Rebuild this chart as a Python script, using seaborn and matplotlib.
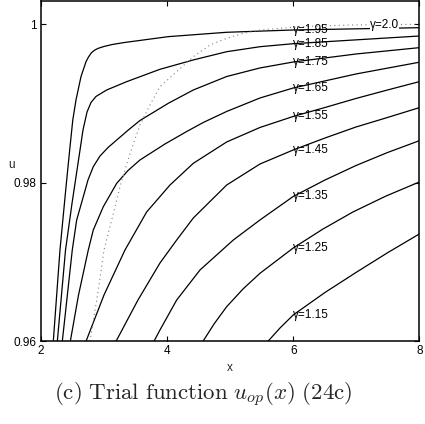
import numpy as np
import pandas as pd
import matplotlib
matplotlib.use("Agg")
import matplotlib.pyplot as plt
import seaborn as sns

# ---- data ----
gammas = ["1.95", "1.85", "1.75", "1.65", "1.55", "1.45", "1.35", "1.25", "1.15"]

x_195 = [2.195, 2.301, 2.397, 2.455, 2.504, 2.555, 2.634, 2.714, 2.753, 2.801, 2.856, 2.909,
         2.999, 3.126, 3.305, 4.019, 4.945, 6.0, 8.0]
u_195 = [0.9600, 0.97152, 0.97951, 0.98414, 0.98792, 0.99045, 0.99339, 0.99528, 0.99587, 0.99642,
         0.99676, 0.99697, 0.99720, 0.99744, 0.99768, 0.99844, 0.99899, 0.99928, 0.99957]

x_185 = [2.259, 2.389, 2.492, 2.611, 2.666, 2.730, 2.793, 2.872, 3.042, 3.359, 3.887, 4.416,
         4.945, 5.473, 6.0, 8.0]
u_185 = [0.9600, 0.97152, 0.97741, 0.98372, 0.98666, 0.98893, 0.99013, 0.99089, 0.99171, 0.99276,
         0.99432, 0.99550, 0.99654, 0.99717, 0.99755, 0.99852]

x_175 = [2.338, 2.496, 2.566, 2.671, 2.745, 2.829, 2.936, 3.063, 3.201, 3.385, 3.570, 4.019,
         4.416, 4.945, 5.473, 6.0, 6.996, 8.0]
u_175 = [0.9600, 0.97152, 0.97531, 0.97825, 0.98035, 0.98203, 0.98338, 0.98445, 0.98540, 0.98666,
         0.98786, 0.99003, 0.99171, 0.99341, 0.99449, 0.99524, 0.99625, 0.99705]

x_165 = [2.465, 2.595, 2.750, 2.829, 2.988, 3.201, 3.380, 3.570, 3.967, 4.311, 4.574, 4.945,
         5.473, 6.0, 6.996, 8.0]
u_165 = [0.9600, 0.96584, 0.97152, 0.97404, 0.97698, 0.97994, 0.98155, 0.98288, 0.98490, 0.98647,
         0.98761, 0.98900, 0.99070, 0.99196, 0.99373, 0.99521]

x_155 = [2.714, 2.999, 3.332, 3.676, 4.046, 4.416, 4.945, 5.473, 6.0, 6.504, 6.996, 7.496, 8.0]
u_155 = [0.9600, 0.96584, 0.97152, 0.97632, 0.97972, 0.98246, 0.98515, 0.98698, 0.98837, 0.98950,
         0.99064, 0.99171, 0.99276]

x_145 = [3.190, 3.538, 3.887, 4.152, 4.416, 4.945, 5.473, 6.0, 6.504, 6.996, 7.496, 8.0]
u_145 = [0.9600, 0.96521, 0.96988, 0.97278, 0.97556, 0.97972, 0.98237, 0.98414, 0.98565, 0.98704,
         0.98824, 0.98948]

x_135 = [3.792, 3.887, 4.152, 4.522, 5.050, 5.473, 6.0, 6.504, 6.996, 7.496, 8.0]
u_135 = [0.9600, 0.96143, 0.96521, 0.96900, 0.97278, 0.97531, 0.97827, 0.98035, 0.98218, 0.98382,
         0.98531]

x_125 = [4.569, 4.744, 4.945, 5.204, 5.473, 6.0, 6.473, 6.948, 7.472, 8.0]
u_125 = [0.9600, 0.96218, 0.96437, 0.96660, 0.96858, 0.97177, 0.97417, 0.97632, 0.97833, 0.98010]

x_115 = [5.600, 5.791, 6.0, 6.504, 7.007, 7.504, 8.0]
u_115 = [0.9600, 0.96168, 0.96332, 0.96616, 0.96874, 0.97121, 0.97354]

x_200 = [2.777, 2.909, 2.999, 3.121, 3.253, 3.412, 3.570, 3.729, 3.887, 4.152, 4.416, 4.680,
         4.945, 5.209, 5.473, 6.108, 6.901, 8.0]
u_200 = [0.9600, 0.96647, 0.97152, 0.97531, 0.97951, 0.98372, 0.98729, 0.98982, 0.99213, 0.99402,
         0.99591, 0.99739, 0.99823, 0.99886, 0.99928, 0.99970, 0.99991, 1.0]

x_ticks = [2, 4, 6, 8]
x_ticklabels = ["2", "4", "6", "8"]
y_ticks = [0.96, 0.98, 1.0]
y_ticklabels = ["0.96", "0.98", "1"]

solid_x = [x_195, x_185, x_175, x_165, x_155, x_145, x_135, x_125, x_115]
solid_u = [u_195, u_185, u_175, u_165, u_155, u_145, u_135, u_125, u_115]

# ---- plotting ----
sns.set_theme(style="ticks")
plt.rcParams["font.family"] = ["Liberation Sans", "DejaVu Sans"]
plt.rcParams["mathtext.fontset"] = "cm"

fig = plt.figure(figsize=(4.25, 4.24), dpi=100)
ax = fig.add_axes([41 / 425, 82.7 / 424, 378.3 / 425, 340.8 / 424])

for g, xs, us in zip(gammas, solid_x, solid_u):
    df = pd.DataFrame({"x": xs, "u": us})
    sns.lineplot(data=df, x="x", y="u", ax=ax, color="black", lw=0.9,
                 sort=False, estimator=None)
    ax.text(6.0, np.interp(6.0, xs, us), "γ=" + g, fontsize=8.5, ha="left",
            va="center", color="black")

df2 = pd.DataFrame({"x": x_200, "u": u_200})
sns.lineplot(data=df2, x="x", y="u", ax=ax, color="#808080", lw=0.8,
             sort=False, estimator=None)
ax.lines[-1].set_dashes([1, 3])
ax.text(7.22, 0.99995, "γ=2.0", fontsize=8.5, ha="left", va="center",
        color="black", bbox=dict(facecolor="white", edgecolor="none", pad=0.2))

ax.set_xlim(2, 8)
ax.set_ylim(0.96, 1.0030)
ax.set_xticks(x_ticks)
ax.set_xticklabels(x_ticklabels)
ax.set_yticks(y_ticks)
ax.set_yticklabels(y_ticklabels)
ax.tick_params(direction="in", length=3.5, width=0.8, labelsize=8.5,
               top=True, right=True, pad=3, colors="black")
for s in ax.spines.values():
    s.set_linewidth(1.1)
    s.set_color("black")

ax.set_xlabel("x", fontsize=8.5, labelpad=3)
ax.set_ylabel("u", fontsize=8.5, rotation=0, va="center", ha="center")
ax.yaxis.set_label_coords(-0.077, 0.516)

fig.text(0.477, 0.068, r"$\mathrm{(c)\ Trial\ function\ }u_{op}(x)\mathrm{\ (24c)}$",
         ha="center", va="center", fontsize=16.5)

fig.savefig("out.png", dpi=100, facecolor="white")
